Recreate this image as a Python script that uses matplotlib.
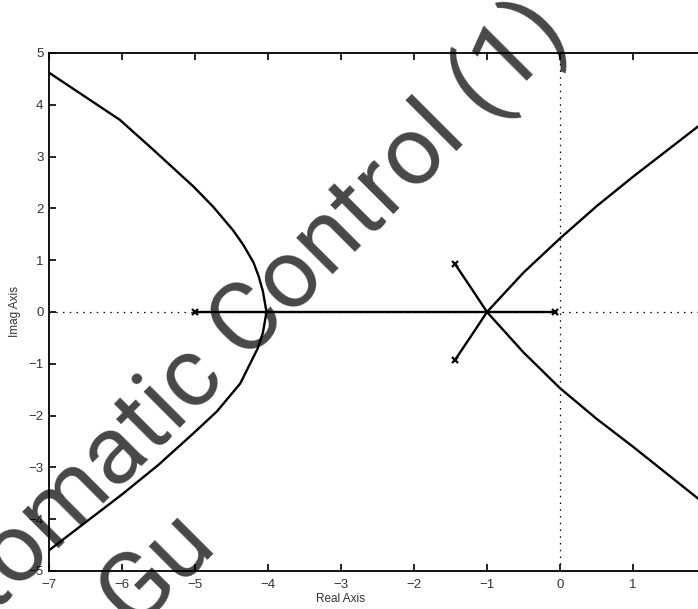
import matplotlib
matplotlib.use("Agg")
import matplotlib.pyplot as plt

# open-loop poles
pole_re = [-5.0, -0.07, -1.44, -1.44]
pole_im = [0.0, 0.0, 0.93, -0.93]

# branches of the locus
left_upper_re = [-7.0, -6.03, -5.57, -5.02, -4.75, -4.48, -4.34, -4.20, -4.13, -4.07, -4.02]
left_upper_im = [4.62, 3.71, 3.13, 2.42, 2.03, 1.58, 1.30, 0.96, 0.70, 0.40, 0.0]
left_lower_re = [-4.02, -4.07, -4.14, -4.38, -4.70, -5.02, -5.50, -5.98, -6.99]
left_lower_im = [0.0, -0.40, -0.70, -1.38, -1.92, -2.34, -2.95, -3.50, -4.59]
right_upper_re = [-1.0, -0.5, 0.0, 0.5, 1.0, 1.89, 3.0]
right_upper_im = [0.0, 0.76, 1.42, 2.04, 2.61, 3.58, 4.65]
right_lower_re = [-1.0, -0.5, 0.0, 0.5, 1.0, 1.89, 3.0]
right_lower_im = [0.0, -0.78, -1.47, -2.06, -2.60, -3.60, -4.66]
cplx_upper_re = [-1.44, -1.23, -1.0]
cplx_upper_im = [0.93, 0.49, 0.0]
cplx_lower_re = [-1.44, -1.23, -1.0]
cplx_lower_im = [-0.93, -0.49, 0.0]
real_seg_re = [-5.0, -0.07]
real_seg_im = [0.0, 0.0]

x_ticks = [-7, -6, -5, -4, -3, -2, -1, 0, 1, 2, 3]
y_ticks = [-5, -4, -3, -2, -1, 0, 1, 2, 3, 4, 5]

plt.rcParams['font.family'] = ['Liberation Sans', 'DejaVu Sans']

fig = plt.figure(figsize=(6.98, 6.09), dpi=100)
ax = fig.add_axes([0.0702, 0.0624, 1.0458, 0.8506])

dot = (0, (1.2, 4.2))
ax.axhline(0, color='k', lw=0.9, linestyle=dot, zorder=1)
ax.axvline(0, color='k', lw=0.9, linestyle=dot, zorder=1)

lw = 1.7
for re, im in [(left_upper_re, left_upper_im), (left_lower_re, left_lower_im),
               (right_upper_re, right_upper_im), (right_lower_re, right_lower_im),
               (cplx_upper_re, cplx_upper_im), (cplx_lower_re, cplx_lower_im),
               (real_seg_re, real_seg_im)]:
    ax.plot(re, im, color='k', lw=lw, zorder=2)

ax.plot(pole_re, pole_im, linestyle='none', marker='x', color='k',
        markersize=5, markeredgewidth=1.6, zorder=3)

ax.set_xlim(-7, 3)
ax.set_ylim(-5, 5)
ax.set_xticks(x_ticks)
ax.set_yticks(y_ticks)
ax.tick_params(direction='in', length=5, width=1.2, top=True, right=True,
               labelsize=9.5, labelcolor='#333333')
ax.tick_params(axis='x', pad=6)
ax.tick_params(axis='y', pad=4)
for s in ax.spines.values():
    s.set_linewidth(1.3)

ax.set_xlabel('Real Axis', fontsize=8.5, color='#333333')
ax.xaxis.set_label_coords(0.4, -0.043, transform=ax.transAxes)
ax.xaxis.label.set_va('top')
ax.set_ylabel('Imag Axis', fontsize=8.5, color='#333333', labelpad=5)

# watermark
wm = dict(fontsize=70, color='k', alpha=0.72, family='Roboto', weight='normal',
          rotation=45, rotation_mode='anchor', ha='center', va='baseline', zorder=10)
fig.text(0.345, 0.398, 'Automatic Control (1)', **wm)
fig.text(0.250, 0.036, 'Gu', **wm)

fig.savefig('out.png', dpi=100)
